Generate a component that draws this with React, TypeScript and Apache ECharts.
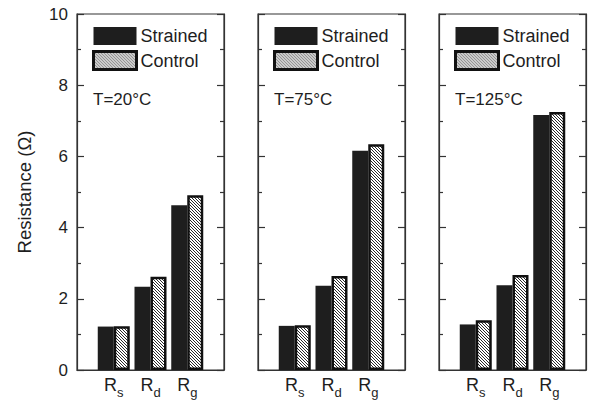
import React, { useEffect, useRef } from "react";
import * as echarts from "echarts";

const categories = ["Rs", "Rd", "Rg"];
const subscripts = ["s", "d", "g"];
const panelTitles = ["T=20°C", "T=75°C", "T=125°C"];
const strained20 = [1.22, 2.34, 4.63];
const control20 = [1.23, 2.62, 4.91];
const strained75 = [1.24, 2.37, 6.16];
const control75 = [1.26, 2.64, 6.34];
const strained125 = [1.28, 2.38, 7.16];
const control125 = [1.4, 2.67, 7.25];
const yTicks = [0, 2, 4, 6, 8, 10];

const strainedSets = [strained20, strained75, strained125];
const controlSets = [control20, control75, control125];

const FONT = "'Liberation Sans', Arial, Helvetica, sans-serif";
const INK = "#1e1e1e";

export default function App() {
  const ref = useRef<HTMLDivElement>(null);
  useEffect(() => {
    if (!ref.current) return;
    const chart = echarts.init(ref.current, undefined, { renderer: "svg" });

    const cv = document.createElement("canvas");
    cv.width = 6;
    cv.height = 6;
    const ctx = cv.getContext("2d")!;
    ctx.fillStyle = "#ffffff";
    ctx.fillRect(0, 0, 6, 6);
    ctx.strokeStyle = "#111111";
    ctx.lineWidth = 0.9;
    for (let k = -9; k <= 9; k += 3) {
      ctx.beginPath();
      ctx.moveTo(-1, -1 + k);
      ctx.lineTo(7, 7 + k);
      ctx.stroke();
    }
    const hatch: any = { image: cv, repeat: "repeat", imageWidth: 6, imageHeight: 6 };

    const lefts = [77, 258, 439];
    const top = 14;
    const height = 356;
    const width = 147;

    const grids: any[] = [];
    const xAxes: any[] = [];
    const yAxes: any[] = [];
    const series: any[] = [];
    const legends: any[] = [];
    const graphics: any[] = [];

    lefts.forEach((left, g) => {
      grids.push({
        left,
        top,
        width,
        height,
        show: true,
        borderColor: "#333",
        borderWidth: 1.2,
        backgroundColor: "transparent",
      });
      xAxes.push({
        type: "value",
        gridIndex: g,
        min: 0,
        max: 4,
        interval: 1,
        splitLine: { show: false },
        axisTick: { show: false },
        axisLine: { show: true, lineStyle: { color: "#333", width: 1.2 } },
        axisLabel: {
          margin: 6,
          formatter: (v: number) => {
            const i = Math.round(v) - 1;
            if (i < 0 || i >= categories.length) return "";
            return "{r|" + categories[i].charAt(0) + "}{s|" + subscripts[i] + "}";
          },
          rich: {
            r: { fontSize: 18, fontFamily: FONT, color: INK, padding: [0, 0, 5, 0], verticalAlign: "bottom" },
            s: { fontSize: 13, fontFamily: FONT, color: INK, verticalAlign: "bottom" },
          },
        },
      });
      const baseY = {
        type: "value",
        gridIndex: g,
        min: 0,
        max: 10,
        interval: 2,
        splitLine: { show: false },
        axisLine: { show: true, lineStyle: { color: "#333", width: 1.2 } },
        axisTick: { show: true, inside: true, length: 7, lineStyle: { color: "#333", width: 1.2 } },
        minorTick: { show: true, splitNumber: 2, length: 4, lineStyle: { color: "#333", width: 1.2 } },
      };
      yAxes.push({
        ...baseY,
        position: "left",
        name: g === 0 ? "Resistance (Ω)" : "",
        nameLocation: "middle",
        nameGap: 43,
        nameTextStyle: { fontSize: 18.5, fontFamily: FONT, color: INK },
        axisLabel: {
          show: g === 0,
          margin: 9,
          fontSize: 17,
          fontFamily: FONT,
          color: INK,
          formatter: (v: number) => (yTicks.indexOf(v) >= 0 ? String(v) : ""),
        },
      });
      yAxes.push({
        ...baseY,
        position: "right",
        axisLabel: { show: false },
      });
      series.push({
        name: "Strained",
        type: "bar",
        xAxisIndex: g,
        yAxisIndex: 2 * g,
        barWidth: 16,
        barGap: "0%",
        itemStyle: { color: INK },
        data: strainedSets[g].map((v, i) => [i + 1, v]),
      });
      series.push({
        name: "Control",
        type: "bar",
        xAxisIndex: g,
        yAxisIndex: 2 * g,
        barWidth: 16,
        barGap: "0%",
        itemStyle: { color: hatch, borderColor: "#111", borderWidth: 2.5 },
        data: controlSets[g].map((v, i) => [i + 1, v]),
      });
      legends.push({
        left: left + 15,
        top: 27,
        padding: 0,
        orient: "vertical",
        itemWidth: 43,
        itemHeight: 18,
        itemGap: 5,
        icon: "rect",
        selectedMode: false,
        textStyle: { fontSize: 18, fontFamily: FONT, color: INK, padding: [0, 0, 0, -1] },
        data: [
          { name: "Strained", itemStyle: { borderWidth: 0 } },
          { name: "Control", itemStyle: { borderWidth: 3, borderColor: "#111" } },
        ],
      });
      graphics.push({
        type: "text",
        left: left + 16,
        top: 91,
        style: { text: panelTitles[g], font: `17px ${FONT}`, fill: INK },
      });
    });

    chart.setOption({
      animation: false,
      backgroundColor: "#ffffff",
      grid: grids,
      xAxis: xAxes,
      yAxis: yAxes,
      series,
      legend: legends,
      graphic: graphics,
    });
    return () => chart.dispose();
  }, []);
  return (
    <div
      ref={ref}
      style={{ position: "fixed", left: 0, top: 0, width: 592, height: 404 }}
    />
  );
}
